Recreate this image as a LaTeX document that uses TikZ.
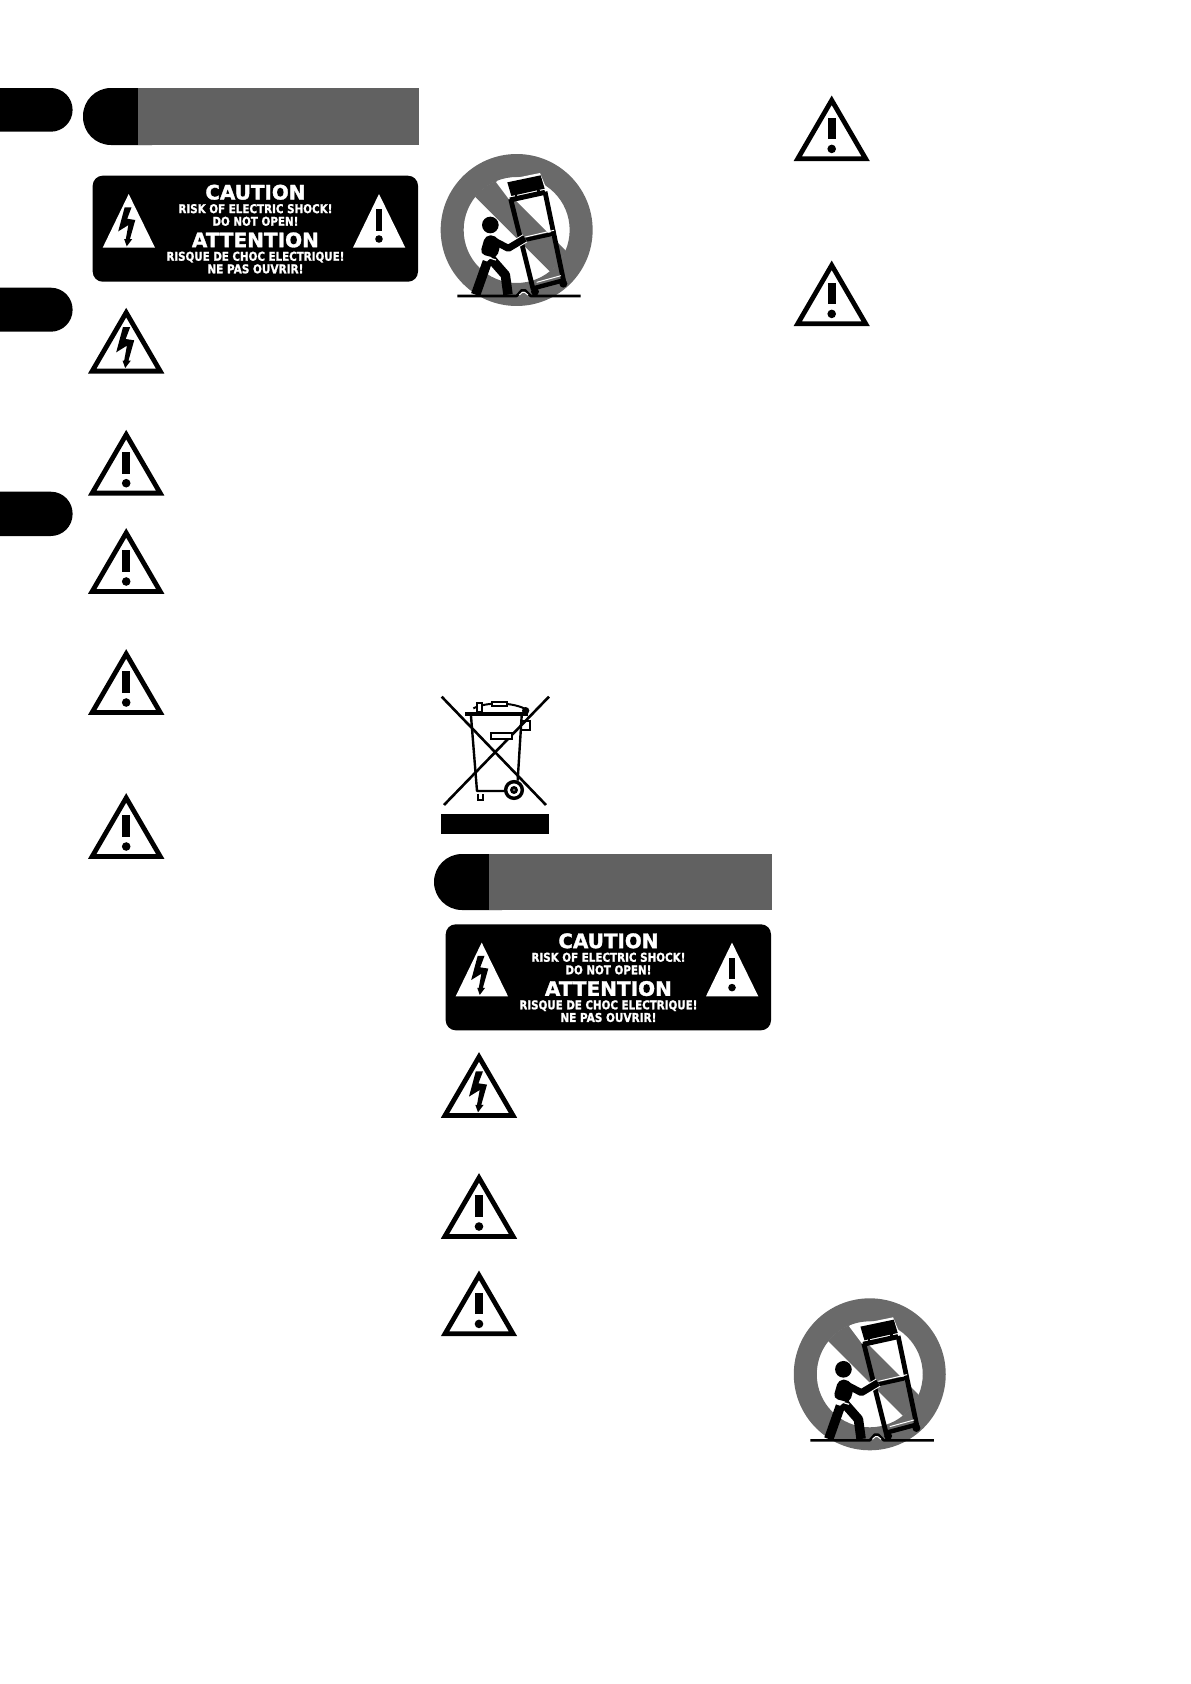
\documentclass[tikz,border=0pt]{standalone}
\usepackage{graphicx}
\usepackage{fontspec}
\setmainfont{DejaVu Sans}[BoldFeatures={FakeBold=1.6}]
\definecolor{barGray}{HTML}{616161}
\definecolor{discGray}{HTML}{6A6A6A}
\tikzset{
	signline/.style={line width=4.8pt,miter limit=10,line join=miter},
	capline/.style={inner sep=0pt,anchor=base,text=white,font=\bfseries},
	halo/.style={white,line width=#1},
	rail/.style={line width=#1,line join=round},
}
\begin{document}
\begin{tikzpicture}[x=1pt,y=-1pt]
	\useasboundingbox (0,0) rectangle (1191,1684);
	\clip (0,0) rectangle (1191,1684);
	\def\boltE{(-3.2,19) -- (4,19) -- (-0.5,31) -- (8,32.3) -- (2.3,52.5) -- (4.7,52.5) -- (-1,60) -- (-3.7,52.5) -- (-2,52.5) -- (0.7,37.7) -- (-10,44.3) -- cycle}
	\def\warnE#1#2{\begin{scope}[shift={(#1,#2)}]
			\draw[signline] (0,4.6) -- (-34,63.1) -- (34,63.1) -- cycle;
			\fill (-3.85,22) rectangle (3.85,43.7);
			\fill (0,53.2) circle (4.3);
		\end{scope}}
	\def\shockE#1#2{\begin{scope}[shift={(#1,#2)}]
			\draw[signline] (0,4.6) -- (-34,63.1) -- (34,63.1) -- cycle;
			\fill \boltE;
		\end{scope}}
	\def\capE#1#2#3#4#5{\node[capline] (#1) at (162.7,#2) {\resizebox{#3pt}{#4pt}{#5}};}
	\def\labelE#1#2{\begin{scope}[shift={(#1,#2)},name prefix=L#1-]
			\fill[rounded corners=10pt] (0,0) rectangle (325.3,106);
			\fill[white] (36,18.3) -- (10,72) -- (62.3,72) -- cycle;
			\fill[white] (286.3,18.3) -- (260.3,72) -- (312.6,72) -- cycle;
			\begin{scope}[shift={(35,13.6)},scale=.95]
				\fill \boltE;
			\end{scope}
			\fill (283.2,33.3) rectangle (289.5,55);
			\fill (286.3,63.3) circle (3.8);
			\capE{caution}{23.8}{100}{14.8}{CAUTION}
			\capE{risk}{37.4}{154}{9}{RISK OF ELECTRIC SHOCK!}
			\capE{donot}{50}{86}{9}{DO NOT OPEN!}
			\capE{attention}{71.5}{127}{14.8}{ATTENTION}
			\capE{risque}{85}{178}{9}{RISQUE DE CHOC ELECTRIQUE!}
			\capE{nepas}{97.6}{96}{9}{NE PAS OUVRIR!}
		\end{scope}}
	\def\truckE#1#2{\begin{scope}[shift={(#1,#2)},x=.3333pt,y=-.3333pt]
			\fill[discGray,even odd rule] (260,270) circle (228) (260,270) circle (159);
			\begin{scope}
				\clip (260,270) circle (160);
				\fill[discGray] (60,95) -- (135,170) -- (480,515) -- (515,440) -- (200,125) -- (125,50) -- cycle;
			\end{scope}
			\fill[white] (198,126) -- (330,99) -- (352,152) -- (240,182) -- cycle;
			\fill (232,127) -- (332,106) -- (344,146) -- (244,168) -- cycle;
			\draw[rail=5pt] (240,180) -- (345,157);
			\fill (255,165) rectangle (262,178);
			\fill (322,150) rectangle (329,165);
			\draw[rail=4.8pt] (242,177) -- (310,450);
			\draw[rail=4.8pt] (345,155) -- (402,428);
			\draw[white,line width=1pt] (286,291) -- (372,271);
			\draw[rail=4pt] (285,300) -- (376,280);
			\draw[white,line width=1pt] (320,427) -- (393,407);
			\draw[rail=4.4pt] (310,445) -- (404,420);
			\fill (315,455) circle (12);
			\fill (400,431) circle (12);
			\draw[halo=9pt,line join=round] (187,300) -- (235,325) -- (285,295);
			\draw[rail=7pt] (187,300) -- (235,325) -- (285,295);
			\fill (181,255) circle (25);
			\fill[rounded corners=5pt] (166,286) -- (198,286) -- (212,312) -- (200,355) -- (150,342) -- cycle;
			\draw[rail=9.5pt] (172,365) -- (137,464);
			\draw[rail=9.5pt] (182,355) -- (226,405) -- (234,464);
			\draw[white,line width=1.2pt] (152,346) -- (198,360);
			\draw[line width=2.6pt,line join=round] (82,468) -- (260,468) -- (275,451) -- (285,451) -- (302,468) -- (452,468);
			\draw[white,line width=1pt] (268,465) -- (277,457) -- (284,457) -- (294,465);
		\end{scope}}
	\fill[rounded corners=21.8pt] (-40,88) rectangle (72.6,131.7);
	\fill[rounded corners=21.8pt] (-40,287.7) rectangle (72.6,331.7);
	\fill[rounded corners=21.8pt] (-40,491.7) rectangle (72.6,536);
	\fill[rounded corners=28pt] (83,88) rectangle (180,145);
	\fill[barGray] (138,88) rectangle (419,145);
	\fill[rounded corners=28pt] (434,854) rectangle (530,910);
	\fill[barGray] (489,854) rectangle (772,910);
	\labelE{92.7}{175.7}
	\labelE{445.7}{924.3}
	\shockE{126.2}{308}
	\warnE{126.2}{430}
	\warnE{126.2}{528.3}
	\warnE{126.2}{649.3}
	\warnE{126.2}{793.3}
	\shockE{479}{1052.3}
	\warnE{479}{1173.3}
	\warnE{479}{1270.7}
	\warnE{831.7}{95.7}
	\warnE{831.7}{260.7}
	\truckE{430}{140}
	\truckE{783.1}{1284.3}
	\begin{scope}[shift={(430,690)},x=.3333pt,y=-.3333pt]
		\draw[line width=2.6pt] (35,20) -- (348,345);
		\draw[line width=2.6pt] (357,20) -- (42,345);
		\draw[line width=2.4pt] (275,78) -- (263,272);
		\draw[line width=2.4pt,line join=round] (123,78) -- (141,303) -- (225,303);
		\draw[line width=4pt] (105,73) -- (295,73);
		\draw[line width=2pt] (130,55) .. controls (170,35) and (250,35) .. (292,60);
		\draw[line width=1.8pt,fill=white] (186,36) rectangle (230,47);
		\draw[line width=1.8pt,fill=white] (140,38) rectangle (155,66);
		\fill (287,62) circle (11);
		\draw[line width=1.9pt] (275,92) -- (301,92) -- (301,120) -- (272,120);
		\draw[line width=2pt,fill=white] (183,130) rectangle (245,147);
		\draw[line width=3.4pt,fill=white] (252,300) circle (25);
		\fill (252,300) circle (12);
		\fill[discGray] (252,300) circle (4);
		\draw[line width=1.8pt] (143,311) -- (143,330) -- (160,330) -- (160,311);
		\fill (33,372) rectangle (357,432);
	\end{scope}
\end{tikzpicture}
\end{document}
